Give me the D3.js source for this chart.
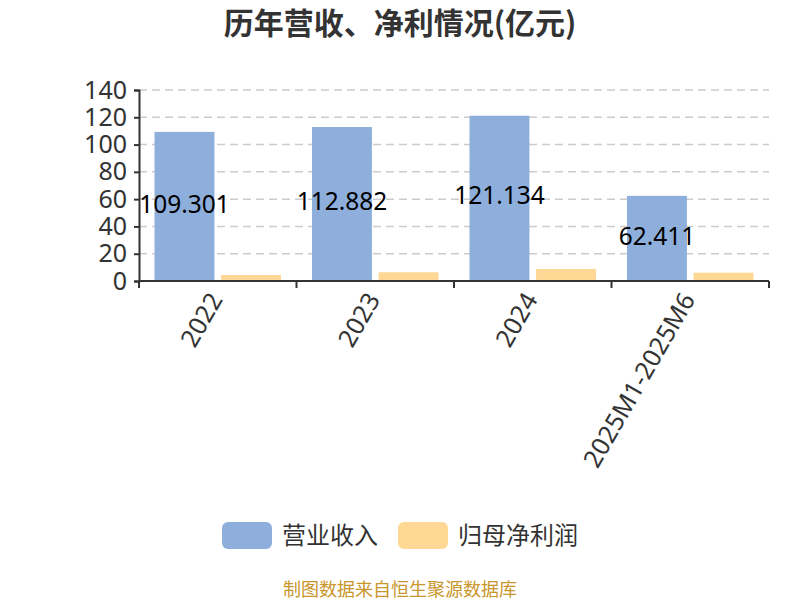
<!DOCTYPE html>
<html>
<head>
<meta charset="utf-8">
<script src="https://cdn.jsdelivr.net/npm/d3@7"></script>
<style>
  html, body { margin: 0; padding: 0; background: #fff; }
  svg { display: block; font-family: "Noto Sans", "Noto Sans CJK SC", sans-serif; }
</style>
</head>
<body>
<svg id="chart" width="800" height="600"></svg>
<script>
// data
const categories = ["2022", "2023", "2024", "2025M1-2025M6"];
const revenue = [109.301, 112.882, 121.134, 62.411];
const netProfit = [4.4, 6.4, 8.8, 6.1];
const seriesNames = ["营业收入", "归母净利润"];
const yTicks = [0, 20, 40, 60, 80, 100, 120, 140];

const colors = ["#8eaedb", "#ffd896"];

const svg = d3.select("#chart");

// plot box
const plotLeft = 139, plotRight = 769, plotTop = 90, plotBottom = 281;

const x0 = d3.scaleBand().domain(categories).range([plotLeft, plotRight]).padding(0);
const x1 = d3.scaleBand().domain(seriesNames).range([15.5, x0.bandwidth() - 15.5]).paddingInner(0.1);
const y = d3.scaleLinear().domain([0, 140]).range([plotBottom, plotTop]);

// title
svg.append("text")
  .attr("x", 400).attr("y", 34)
  .attr("text-anchor", "middle")
  .attr("font-family", "'Noto Sans CJK SC', sans-serif")
  .attr("font-weight", "bold")
  .attr("font-size", 30)
  .attr("fill", "#333")
  .text("历年营收、净利情况(亿元)");

// gridlines
svg.append("g")
  .selectAll("line")
  .data(yTicks.filter(d => d > 0))
  .join("line")
  .attr("x1", plotLeft).attr("x2", plotRight)
  .attr("y1", d => y(d)).attr("y2", d => y(d))
  .attr("stroke", "#ccc")
  .attr("stroke-width", 1.5)
  .attr("stroke-dasharray", "8,5");

// bars
const rows = categories.map((c, i) => ({ cat: c, vals: [revenue[i], netProfit[i]] }));

const groups = svg.append("g")
  .selectAll("g")
  .data(rows)
  .join("g")
  .attr("transform", d => `translate(${x0(d.cat)},0)`);

groups.selectAll("rect")
  .data(d => d.vals.map((v, k) => ({ name: seriesNames[k], v, k })))
  .join("rect")
  .attr("x", d => x1(d.name))
  .attr("width", x1.bandwidth())
  .attr("y", d => y(d.v))
  .attr("height", d => y(0) - y(d.v))
  .attr("fill", d => colors[d.k]);

// value labels on revenue bars
groups.append("text")
  .attr("x", x1(seriesNames[0]) + x1.bandwidth() / 2)
  .attr("y", d => (y(d.vals[0]) + y(0)) / 2)
  .attr("dy", "0.25em")
  .attr("text-anchor", "middle")
  .attr("font-size", 24.5)
  .attr("fill", "#000")
  .text(d => d.vals[0]);

// y axis
const yAxis = svg.append("g")
  .attr("transform", `translate(${plotLeft},0)`)
  .call(d3.axisLeft(y).tickValues(yTicks).tickSize(5).tickPadding(7));
yAxis.select(".domain").attr("stroke", "#333").attr("stroke-width", 2);
yAxis.selectAll(".tick line").attr("stroke", "#333").attr("stroke-width", 2);
yAxis.selectAll("text")
  .attr("font-size", 25)
  .attr("fill", "#333")
  .attr("font-family", "'Noto Sans', sans-serif");

// x axis: ticks at band boundaries
const xAxis = svg.append("g").attr("transform", `translate(0,${plotBottom})`);
xAxis.append("line")
  .attr("x1", plotLeft).attr("x2", plotRight)
  .attr("stroke", "#333").attr("stroke-width", 2);
const bounds = categories.map(c => x0(c)).concat([x0(categories[categories.length - 1]) + x0.bandwidth()]);
xAxis.selectAll(".xt")
  .data(bounds)
  .join("line")
  .attr("class", "xt")
  .attr("x1", d => d).attr("x2", d => d)
  .attr("y1", 0).attr("y2", 7)
  .attr("stroke", "#333").attr("stroke-width", 2);
xAxis.selectAll(".xl")
  .data(categories)
  .join("text")
  .attr("class", "xl")
  .attr("transform", d => `translate(${x0(d) + x0.bandwidth() / 2 - 2},${14}) rotate(-60)`)
  .attr("text-anchor", "end")
  .attr("dy", "0.35em")
  .attr("font-size", 25)
  .attr("fill", "#333")
  .text(d => d);

// legend
const legend = svg.append("g")
  .selectAll("g")
  .data(seriesNames)
  .join("g")
  .attr("transform", (d, i) => `translate(${[222, 398][i]},522)`);
legend.append("rect")
  .attr("width", 50).attr("height", 27)
  .attr("rx", 6)
  .attr("fill", (d, i) => colors[i]);
legend.append("text")
  .attr("x", 60).attr("y", 14)
  .attr("dy", "0.35em")
  .attr("font-family", "'Noto Sans CJK SC', sans-serif")
  .attr("font-size", 24)
  .attr("fill", "#333")
  .text(d => d);

// source note
svg.append("text")
  .attr("x", 400).attr("y", 596)
  .attr("text-anchor", "middle")
  .attr("font-family", "'Noto Sans CJK SC', sans-serif")
  .attr("font-size", 18)
  .attr("fill", "#c9962b")
  .text("制图数据来自恒生聚源数据库");
</script>
</body>
</html>
